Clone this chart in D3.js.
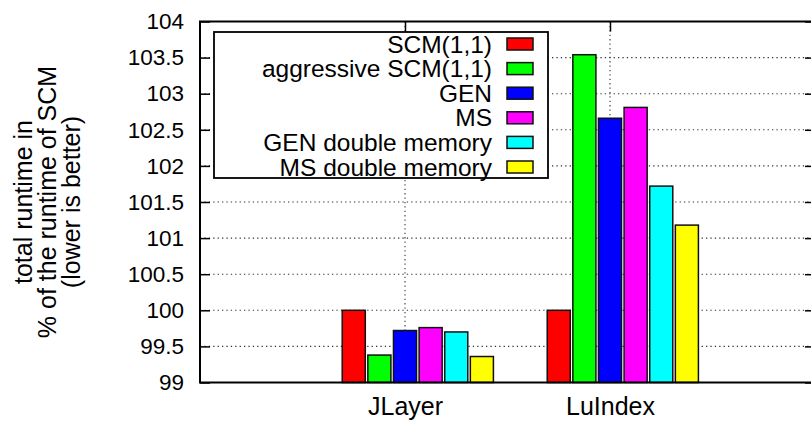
<!DOCTYPE html>
<html>
<head>
<meta charset="utf-8">
<script src="https://cdn.jsdelivr.net/npm/d3@7/dist/d3.min.js"></script>
<style>
  html, body { margin: 0; padding: 0; background: #fff; }
  svg { display: block; font-family: "Liberation Sans", Arial, Helvetica, sans-serif; }
</style>
</head>
<body>
<svg id="chart" width="811" height="423"></svg>
<script>
// Benchmarks on the x axis
const benchmarks = ["JLayer", "LuIndex"];

// Collector configurations (one bar each per benchmark)
const series = ["SCM(1,1)", "aggressive SCM(1,1)", "GEN", "MS", "GEN double memory", "MS double memory"];
const seriesColors = ["#ff0000", "#00ff00", "#0000ff", "#ff00ff", "#00ffff", "#ffff00"];

// Runtime in % of SCM, indexed [series][benchmark]
const scm11          = [100.00, 100.00];
const aggressiveScm  = [99.38, 103.54];
const gen            = [99.72, 102.66];
const ms             = [99.76, 102.81];
const genDoubleMem   = [99.70, 101.72];
const msDoubleMem    = [99.36, 101.18];
const values = [scm11, aggressiveScm, gen, ms, genDoubleMem, msDoubleMem];

const yTicks = [99, 99.5, 100, 100.5, 101, 101.5, 102, 102.5, 103, 103.5, 104];
const yTitle = ["total runtime in", "% of the runtime of SCM", "(lower is better)"];

const svg = d3.select("#chart");
const plotL = 200, plotR = 815, plotT = 21.5, plotB = 382.5;

const x = d3.scaleLinear().domain([-1, 2]).range([plotL, plotR]);
const y = d3.scaleLinear().domain([99, 104]).range([plotB, plotT]);

const slot = 1 / 8;          // cluster of 6 bars plus a gap of 2
const barW = 0.9 * slot;     // box width

// grid
const grid = svg.append("g").attr("stroke", "#333").attr("stroke-width", 1.1)
  .attr("stroke-dasharray", "1.3,3.1");
grid.selectAll("line.h").data(yTicks.slice(1, -1)).join("line")
  .attr("x1", plotL).attr("x2", plotR)
  .attr("y1", d => y(d)).attr("y2", d => y(d));
grid.selectAll("line.v").data(benchmarks.map((_, i) => i)).join("line")
  .attr("x1", d => x(d)).attr("x2", d => x(d))
  .attr("y1", plotT).attr("y2", plotB);

// bars
const bars = svg.append("g");
values.forEach((vals, s) => {
  bars.selectAll(null).data(vals).join("rect")
    .attr("x", (d, i) => x(i + (s - 2) * slot - barW / 2))
    .attr("width", x(barW) - x(0))
    .attr("y", d => y(d))
    .attr("height", d => y(99) - y(d))
    .attr("fill", seriesColors[s])
    .attr("stroke", "#111")
    .attr("stroke-width", 1.5);
});

// axes: left with labels, right mirrored, top ticks at benchmarks
const yAxisL = d3.axisLeft(y).tickValues(yTicks).tickSize(-10).tickPadding(16)
  .tickFormat(d3.format("~g"));
const gL = svg.append("g").attr("transform", `translate(${plotL},0)`).call(yAxisL);
gL.select(".domain").remove();
gL.selectAll(".tick line").attr("stroke", "#000").attr("stroke-width", 1.5);
gL.selectAll(".tick text").attr("font-size", 22.5).attr("fill", "#000")
  .attr("font-family", "Liberation Sans, Arial, sans-serif");

const gR = svg.append("g").attr("transform", `translate(${plotR},0)`)
  .call(d3.axisRight(y).tickValues(yTicks).tickSize(-10).tickFormat(""));
gR.select(".domain").remove();
gR.selectAll(".tick line").attr("stroke", "#000").attr("stroke-width", 1.5);

const gT = svg.append("g").attr("transform", `translate(0,${plotT})`)
  .call(d3.axisTop(x).tickValues([0, 1]).tickSize(-10).tickFormat(""));
gT.select(".domain").remove();
gT.selectAll(".tick line").attr("stroke", "#000").attr("stroke-width", 1.5);

const gB = svg.append("g").attr("transform", `translate(0,${plotB})`)
  .call(d3.axisBottom(x).tickValues([0, 1]).tickSize(0).tickPadding(15)
    .tickFormat(i => benchmarks[i]));
gB.select(".domain").remove();
gB.selectAll(".tick text").attr("font-size", 25).attr("fill", "#000")
  .attr("font-family", "Liberation Sans, Arial, sans-serif");

// plot border
svg.append("rect")
  .attr("x", plotL).attr("y", plotT)
  .attr("width", plotR - plotL).attr("height", plotB - plotT)
  .attr("fill", "none").attr("stroke", "#000").attr("stroke-width", 2);

// y axis title
const midY = (plotT + plotB) / 2;
const titleX = [32, 56, 80];
yTitle.forEach((t, i) => {
  svg.append("text")
    .attr("transform", `translate(${titleX[i]},${midY}) rotate(-90)`)
    .attr("text-anchor", "middle")
    .attr("font-size", 25)
    .attr("fill", "#000")
    .text(t);
});

// legend
const lg = svg.append("g");
lg.append("rect")
  .attr("x", 214).attr("y", 32).attr("width", 334).attr("height", 146)
  .attr("fill", "#fff").attr("stroke", "#000").attr("stroke-width", 1.8);
const rowY = i => 44 + 24.6 * i;
series.forEach((name, i) => {
  lg.append("text")
    .attr("x", 492).attr("y", rowY(i) + 8.5)
    .attr("text-anchor", "end")
    .attr("font-size", 24.5)
    .attr("fill", "#000")
    .text(name);
  lg.append("rect")
    .attr("x", 507).attr("y", rowY(i) - 6)
    .attr("width", 26).attr("height", 12)
    .attr("fill", seriesColors[i])
    .attr("stroke", "#111").attr("stroke-width", 1.5);
});
</script>
</body>
</html>
